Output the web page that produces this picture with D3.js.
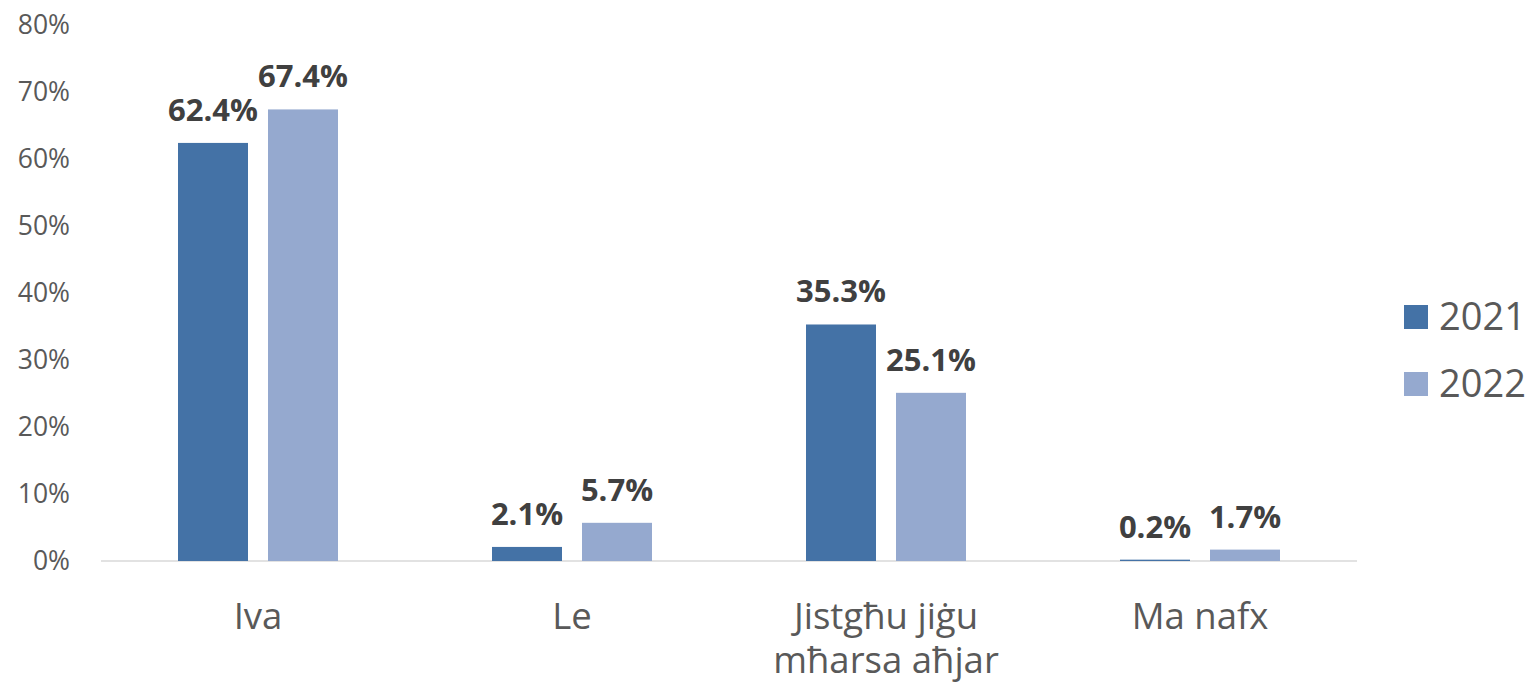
<!DOCTYPE html>
<html>
<head>
<meta charset="utf-8">
<script src="https://cdn.jsdelivr.net/npm/d3@7"></script>
<style>
  body { margin: 0; background: #fff; }
  svg { font-family: "Open Sans", "Noto Sans", sans-serif; }
</style>
</head>
<body>
<svg id="chart" width="1529" height="689"></svg>
<script>
var categories = ["Iva", "Le", "Jistgħu jiġu mħarsa aħjar", "Ma nafx"];
var years = ["2021", "2022"];
var values2021 = [0.624, 0.021, 0.353, 0.002];
var values2022 = [0.674, 0.057, 0.251, 0.017];
var yTicks = [0, 0.1, 0.2, 0.3, 0.4, 0.5, 0.6, 0.7, 0.8];

var colors = {"2021": "#4472a6", "2022": "#95a9cf"};

var rows = categories.map(function(c, i) {
    return {cat: c, vals: [{year: "2021", v: values2021[i]}, {year: "2022", v: values2022[i]}]};
});

var svg = d3.select("#chart");

var x0 = d3.scaleBand().domain(categories).range([101, 1357]),
    x1 = d3.scaleBand().domain(years).range([-80, 80]).paddingInner(2/9),
    y = d3.scaleLinear().domain([0, 0.8]).range([561, 25]);

// y tick labels, no gridlines
svg.append("g").selectAll("text")
    .data(yTicks)
    .enter().append("text")
    .attr("x", 70)
    .attr("y", y)
    .attr("dy", "0.35em")
    .attr("text-anchor", "end")
    .attr("fill", "#595959")
    .style("font-size", "26.5px")
    .text(d3.format(".0%"));

// baseline
svg.append("line")
    .attr("x1", x0.range()[0]).attr("x2", x0.range()[1])
    .attr("y1", y(0)).attr("y2", y(0))
    .attr("stroke", "#d9d9d9").attr("stroke-width", 1.5);

var groups = svg.append("g").selectAll("g")
    .data(rows)
    .enter().append("g")
    .attr("transform", function(d) { return "translate(" + (x0(d.cat) + x0.bandwidth() / 2) + ",0)"; });

groups.selectAll("rect")
    .data(function(d) { return d.vals; })
    .enter().append("rect")
    .attr("x", function(d) { return x1(d.year); })
    .attr("width", x1.bandwidth())
    .attr("y", function(d) { return y(d.v); })
    .attr("height", function(d) { return y(0) - y(d.v); })
    .attr("fill", function(d) { return colors[d.year]; });

groups.selectAll("text.lbl")
    .data(function(d) { return d.vals; })
    .enter().append("text")
    .attr("class", "lbl")
    .attr("x", function(d) { return x1(d.year) + x1.bandwidth() / 2; })
    .attr("y", function(d) { return y(d.v) - 22; })
    .attr("text-anchor", "middle")
    .attr("fill", "#404040")
    .style("font-size", "31px")
    .style("font-weight", "bold")
    .text(function(d) { return d3.format(".1%")(d.v); });

// category labels, wrapped
var catText = svg.append("g").selectAll("text")
    .data(categories)
    .enter().append("text")
    .attr("x", function(d) { return x0(d) + x0.bandwidth() / 2; })
    .attr("y", 629)
    .attr("text-anchor", "middle")
    .attr("fill", "#595959")
    .style("font-size", "36.5px")
    .text(function(d) { return d; });

catText.each(function(d) {
    var text = d3.select(this),
        words = d.split(" "),
        maxW = x0.bandwidth() - 20,
        line = [],
        cx = text.attr("x"),
        tspan = text.text(null).append("tspan").attr("x", cx).attr("dy", 0);
    words.forEach(function(w) {
        line.push(w);
        tspan.text(line.join(" "));
        if (tspan.node().getComputedTextLength() > maxW && line.length > 1) {
            line.pop();
            tspan.text(line.join(" "));
            line = [w];
            tspan = text.append("tspan").attr("x", cx).attr("dy", 44).text(w);
        }
    });
});

// legend
var legend = svg.append("g").selectAll("g")
    .data(years)
    .enter().append("g")
    .attr("transform", function(d, i) { return "translate(1404," + (305 + i * 67) + ")"; });

legend.append("rect")
    .attr("width", 24).attr("height", 24)
    .attr("fill", function(d) { return colors[d]; });

legend.append("text")
    .attr("x", 35)
    .attr("y", 12)
    .attr("dy", "0.35em")
    .attr("fill", "#595959")
    .style("font-size", "38px")
    .text(function(d) { return d; });
</script>
</body>
</html>
